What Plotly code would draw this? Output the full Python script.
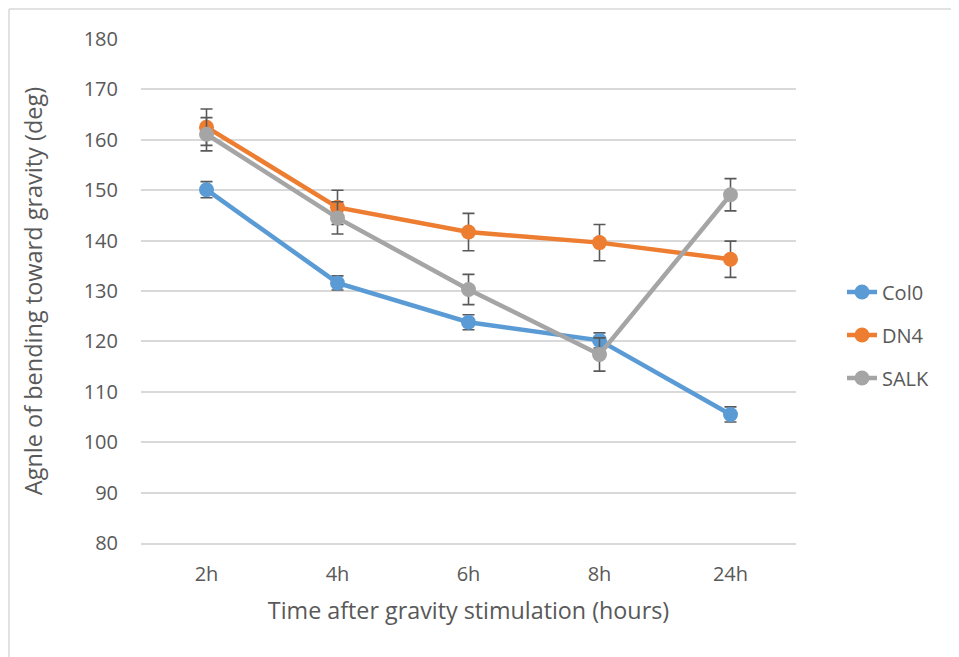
import plotly.graph_objects as go

categories = ['2h', '4h', '6h', '8h', '24h']

col0 = [150.1, 131.6, 123.8, 120.2, 105.5]
col0_err = [1.6, 1.4, 1.5, 1.5, 1.5]

dn4 = [162.5, 146.6, 141.7, 139.6, 136.3]
dn4_err = [3.6, 3.4, 3.7, 3.6, 3.6]

salk = [161.1, 144.5, 130.3, 117.4, 149.1]
salk_err = [3.3, 3.2, 3.0, 3.3, 3.2]

COLORS = {'Col0': '#5B9BD5', 'DN4': '#ED7D31', 'SALK': '#A5A5A5'}
TEXT = '#595959'
FONT = 'Open Sans, sans-serif'

# plot area in figure pixels (page adds an 8px body margin)
L, T, W, H = 133, 31, 655, 504

fig = go.Figure()

for name, vals, errs in [('Col0', col0, col0_err), ('DN4', dn4, dn4_err), ('SALK', salk, salk_err)]:
    fig.add_trace(go.Scatter(
        x=categories,
        y=vals,
        name=name,
        legendgroup=name,
        mode='lines+markers',
        line={'color': COLORS[name], 'width': 4.5},
        marker={'color': COLORS[name], 'size': 15},
        error_y={
            'type': 'data',
            'array': errs,
            'visible': True,
            'color': TEXT,
            'thickness': 1.6,
            'width': 6,
        },
    ))

fig.update_layout(
    width=959,
    height=657,
    paper_bgcolor='white',
    plot_bgcolor='white',
    font={'family': FONT, 'color': TEXT, 'size': 20},
    margin={'l': L, 'r': 959 - L - W, 't': T, 'b': 657 - T - H, 'pad': 0},
    xaxis={
        'type': 'category',
        'range': [-0.5, len(categories) - 0.5],
        'showgrid': False,
        'showline': True,
        'linecolor': '#D9D9D9',
        'linewidth': 1.5,
        'ticks': '',
        'ticklabelstandoff': 12,
        'tickfont': {'size': 20, 'color': TEXT},
        'title': {'text': 'Time after gravity stimulation (hours)',
                  'font': {'size': 23.3, 'color': TEXT}, 'standoff': 17},
    },
    yaxis={
        'range': [80, 180],
        'dtick': 10,
        'showgrid': True,
        'gridcolor': '#D9D9D9',
        'gridwidth': 1.5,
        'zeroline': False,
        'showline': False,
        'ticks': '',
        'ticklabelstandoff': 22,
        'tickfont': {'size': 20, 'color': TEXT},
        'title': {'text': 'Agnle of bending toward gravity (deg)',
                  'font': {'size': 23.5, 'color': TEXT}, 'standoff': 34},
    },
    legend={
        'x': (842 - 141) / W,
        'xanchor': 'left',
        'y': (543 - 335) / H,
        'yanchor': 'middle',
        'font': {'size': 20, 'color': TEXT},
        'tracegroupgap': 14,
        'bgcolor': 'rgba(0,0,0,0)',
    },
    showlegend=True,
)

# outer chart frame: only the left and top edges are visible
frame = {'color': '#D9D9D9', 'width': 1.5}
fig.add_shape(type='line', xref='paper', yref='paper',
              x0=(1 - L) / W, x1=(1 - L) / W, y0=(T + H - 700) / H, y1=(T + H - 1) / H,
              line=frame, layer='below')
fig.add_shape(type='line', xref='paper', yref='paper',
              x0=(1 - L) / W, x1=(1000 - L) / W, y0=(T + H - 1) / H, y1=(T + H - 1) / H,
              line=frame, layer='below')

fig.write_html('out.html')
